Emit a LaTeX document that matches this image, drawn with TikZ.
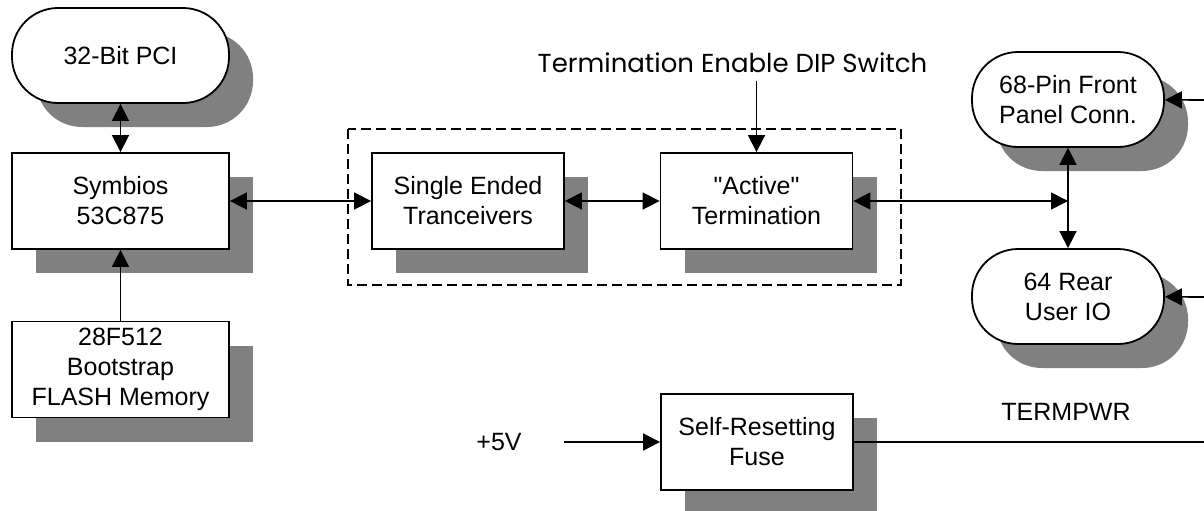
\documentclass[tikz,border=0pt]{standalone}
\usepackage{fontspec}
\newfontfamily\boxfont{Liberation Sans}
\newfontfamily\dipfont{Poppins}
\usetikzlibrary{arrows.meta}
\usetikzlibrary{shadows}

\tikzset{
  blk/.style={draw, line width=0.9pt, fill=white, minimum width=96pt,
    minimum height=48pt, align=center, inner sep=0pt,
    drop shadow={shadow xshift=12pt, shadow yshift=-12pt, opacity=1, fill=black!50}},
  conn/.style={blk, rounded corners=23pt, minimum height=47.5pt},
  wire/.style={line width=0.8pt, >={Triangle[length=8.5pt,width=8.5pt]}},
}

\begin{document}
\begin{tikzpicture}[x=0.5pt, y=-0.5pt, font=\boxfont\fontsize{12.5}{15}\selectfont]
\useasboundingbox (0,0) rectangle (1204,510);

% left column
\node[conn, minimum width=108.5pt] (pci) at (120.5,55.5) {32-Bit PCI};
\node[blk, minimum width=108.5pt] (sym) at (120.5,201) {Symbios\\53C875};
\node[blk, minimum width=108.5pt] (flash) at (120.5,369.5) {28F512\\Bootstrap\\FLASH Memory};

% termination block
\draw[dash pattern=on 5pt off 2.5pt, line width=0.7pt] (348,129) rectangle (901,285);
\node[blk] (sing) at (468,201) {Single Ended\\Tranceivers};
\node[blk] (act) at (756.5,201) {"Active"\\Termination};
\node[anchor=base, inner sep=4pt, font=\dipfont\fontsize{13}{15}\selectfont] (dip) at (732.5,72) {Termination Enable DIP Switch};

% connectors on the right
\node[conn] (front) at (1068,99.5) {68-Pin Front\\Panel Conn.};
\node[conn] (rear) at (1068,296.5) {64 Rear\\User IO};
\coordinate (bus) at (1068,201);
\coordinate (frontin) at (1204,100);
\coordinate (rearin) at (1204,297);

% power
\node[anchor=east, inner sep=0pt] (vin) at (522,442) {+5V};
\node[blk] (fuse) at (757,442) {Self-Resetting\\Fuse};
\node[inner sep=0pt] (pwr) at (1066,412) {TERMPWR};
\coordinate (pwrout) at (1204,442);

\draw[wire,<->] (pci) -- (sym);
\draw[wire,->] (flash) -- (sym);
\draw[wire,<->] (sym) -- (sing);
\draw[wire,<->] (sing) -- (act);
\draw[wire,<->] (act) -- (bus);
\draw[wire,->] (act.north |- dip.south) -- (act);
\draw[wire,<->] (front) -- (rear);
\draw[wire,->] (frontin) -- (front);
\draw[wire,->] (rearin) -- (rear);
\draw[wire,->] ([xshift=21pt]vin.east) -- (fuse);
\draw[wire] (fuse) -- (pwrout);
\end{tikzpicture}
\end{document}
